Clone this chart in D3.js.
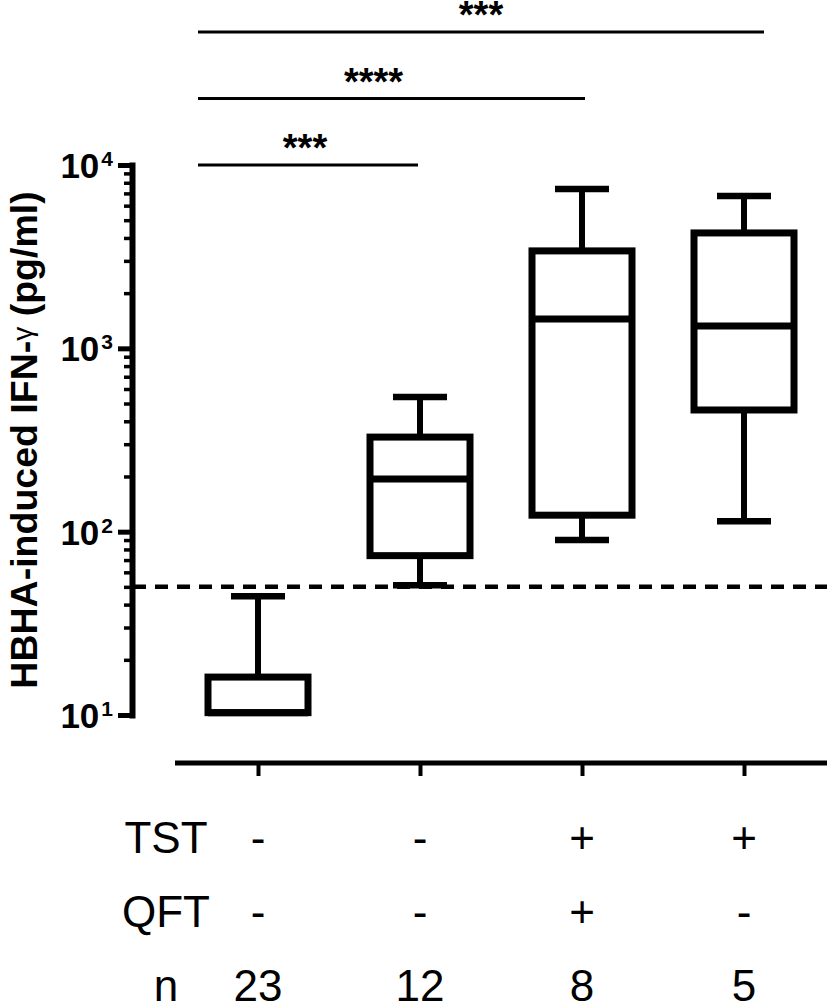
<!DOCTYPE html>
<html>
<head>
<meta charset="utf-8">
<script src="https://cdn.jsdelivr.net/npm/d3@7"></script>
<style>
  html, body { margin: 0; padding: 0; background: #fff; }
  svg { display: block; font-family: "Liberation Sans", Arial, sans-serif; }
</style>
</head>
<body>
<div id="chart"></div>
<script>
// groups and box-plot values (pg/ml)
const groups = ["A", "B", "C", "D"];
const tstSigns = ["-", "-", "+", "+"];
const qftSigns = ["-", "-", "+", "-"];
const nCounts = [23, 12, 8, 5];

const whiskerMin = [10.3, 51, 90, 114];
const q1 = [10.3, 74, 123, 461];
const median = [10.3, 194, 1445, 1324];
const q3 = [16.1, 328, 3400, 4260];
const whiskerMax = [44.4, 543, 7400, 6780];

const cutoff = 50;
const majorTicks = [10, 100, 1000, 10000];

// significance brackets: group 0 vs group j
const compareWith = [1, 2, 3];
const compareLabels = ["***", "****", "***"];

const width = 827, height = 1007;

const svg = d3.select("#chart")
  .append("svg")
  .attr("width", width)
  .attr("height", height);

const x = d3.scalePoint()
  .domain(groups)
  .range([258, 744]);

const y = d3.scaleLog()
  .domain([10, 10000])
  .range([715, 165]);

const boxes = groups.map((g, i) => ({
  g: g, min: whiskerMin[i], q1: q1[i], med: median[i], q3: q3[i], max: whiskerMax[i]
}));

// minor ticks 2..9 in every decade
const minorTicks = [];
majorTicks.slice(0, -1).forEach(d => {
  for (let k = 2; k <= 9; k++) minorTicks.push(d * k);
});

// y axis
const yAxisG = svg.append("g").attr("transform", "translate(132,0)");

yAxisG.append("g")
  .call(d3.axisLeft(y).tickValues(minorTicks).tickSize(8).tickSizeOuter(0).tickFormat(""))
  .call(g => g.select(".domain").remove())
  .selectAll("line").attr("stroke", "#000").attr("stroke-width", 3.5);

const major = yAxisG.append("g")
  .call(d3.axisLeft(y).tickValues(majorTicks).tickSize(14).tickSizeOuter(0).tickPadding(5));

major.select(".domain")
  .attr("stroke", "#000")
  .attr("stroke-width", 6)
  .attr("stroke-linecap", "square");
major.selectAll(".tick line").attr("stroke", "#000").attr("stroke-width", 5);
major.selectAll(".tick text")
  .attr("fill", "#000")
  .attr("font-size", 35)
  .attr("font-weight", "bold")
  .attr("dy", "0.36em")
  .each(function(d) {
    const t = d3.select(this);
    t.text("");
    t.append("tspan").text("10");
    t.append("tspan")
      .attr("dx", 2)
      .attr("dy", -12)
      .attr("font-size", 21)
      .text(Math.round(Math.log10(d)));
  });

// y axis title
const title = svg.append("text")
  .attr("transform", `translate(37,${(y(10) + y(10000)) / 2}) rotate(-90)`)
  .attr("text-anchor", "middle")
  .attr("font-size", 37.5)
  .attr("font-weight", "bold")
  .attr("fill", "#000");
title.append("tspan").text("HBHA-induced IFN-");
title.append("tspan").attr("font-size", 28).attr("font-weight", "normal").attr("dy", -5).text("γ");
title.append("tspan").attr("dy", 5).text(" (pg/ml)");

// x axis
const axisY = 763;
svg.append("line")
  .attr("x1", x(groups[0]) - 83)
  .attr("x2", width)
  .attr("y1", axisY)
  .attr("y2", axisY)
  .attr("stroke", "#000")
  .attr("stroke-width", 5);

svg.append("g")
  .attr("transform", `translate(0,${axisY})`)
  .call(d3.axisBottom(x).tickSize(13).tickSizeOuter(0).tickFormat(""))
  .call(g => g.select(".domain").remove())
  .selectAll("line").attr("stroke", "#000").attr("stroke-width", 4);

// cutoff line
svg.append("line")
  .attr("x1", 133)
  .attr("x2", width)
  .attr("y1", y(cutoff))
  .attr("y2", y(cutoff))
  .attr("stroke", "#000")
  .attr("stroke-width", 4.5)
  .attr("stroke-dasharray", "13,9");

// box plots
const boxW = 100, capW = 54;
const bx = svg.selectAll("g.box")
  .data(boxes)
  .enter()
  .append("g")
  .attr("class", "box");

bx.append("line")
  .attr("x1", d => x(d.g)).attr("x2", d => x(d.g))
  .attr("y1", d => y(d.max)).attr("y2", d => y(d.min))
  .attr("stroke", "#000").attr("stroke-width", 6);

bx.selectAll("line.cap")
  .data(d => [{g: d.g, v: d.max}, {g: d.g, v: d.min}])
  .enter()
  .append("line")
  .attr("class", "cap")
  .attr("x1", d => x(d.g) - capW / 2).attr("x2", d => x(d.g) + capW / 2)
  .attr("y1", d => y(d.v)).attr("y2", d => y(d.v))
  .attr("stroke", "#000").attr("stroke-width", 6.5);

bx.append("rect")
  .attr("x", d => x(d.g) - boxW / 2)
  .attr("width", boxW)
  .attr("y", d => y(d.q3))
  .attr("height", d => y(d.q1) - y(d.q3))
  .attr("fill", "#fff")
  .attr("stroke", "#000")
  .attr("stroke-width", 7);

bx.append("line")
  .attr("x1", d => x(d.g) - boxW / 2).attr("x2", d => x(d.g) + boxW / 2)
  .attr("y1", d => y(d.med)).attr("y2", d => y(d.med))
  .attr("stroke", "#000").attr("stroke-width", 7);

// significance brackets
const barEndShift = [-2, 3, 20];
const starShift = [-3, -18, 0];
compareWith.forEach((j, i) => {
  const by = y(10000) - i * 66.5;
  const x1 = x(groups[0]) - 60;
  const x2 = x(groups[j]) + barEndShift[i];
  svg.append("line")
    .attr("x1", x1).attr("x2", x2)
    .attr("y1", by).attr("y2", by)
    .attr("stroke", "#000").attr("stroke-width", 3);
  svg.append("text")
    .attr("x", (x1 + x2) / 2 + starShift[i])
    .attr("y", by - 4)
    .attr("text-anchor", "middle")
    .attr("font-size", 38)
    .attr("font-weight", "bold")
    .text(compareLabels[i]);
});

// table under the x axis
const rows = [
  {label: "TST", values: tstSigns, y: 853},
  {label: "QFT", values: qftSigns, y: 927},
  {label: "n", values: nCounts, y: 1001}
];
rows.forEach(r => {
  svg.append("text")
    .attr("x", 166).attr("y", r.y)
    .attr("text-anchor", "middle")
    .attr("font-size", 44)
    .text(r.label);
  svg.selectAll(null)
    .data(r.values)
    .enter()
    .append("text")
    .attr("x", (d, i) => x(groups[i]))
    .attr("y", r.y)
    .attr("text-anchor", "middle")
    .attr("font-size", 44)
    .text(d => d);
});
</script>
</body>
</html>
